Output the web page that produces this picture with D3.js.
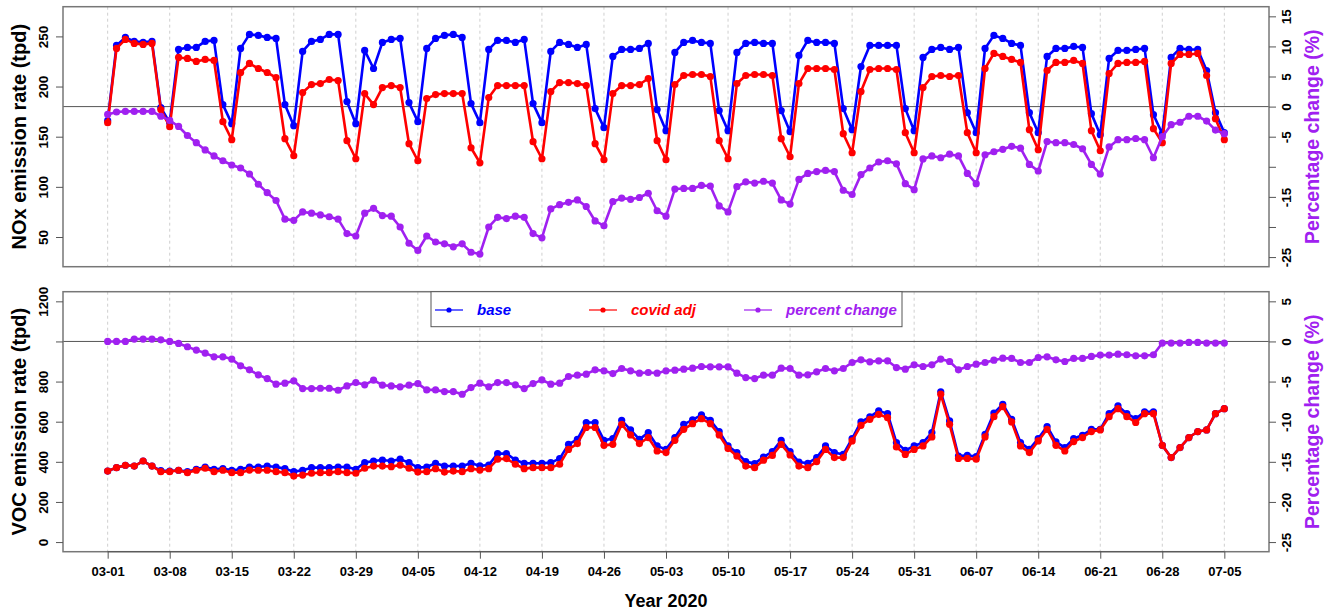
<!DOCTYPE html>
<html>
<head>
<meta charset="utf-8">
<script src="https://cdn.jsdelivr.net/npm/d3@7"></script>
<style>
  body { margin: 0; background: #fff; }
  text { font-family: "Liberation Sans", Arial, Helvetica, sans-serif; }
</style>
</head>
<body>
<script>
// Daily NOx / VOC emissions, 2020-03-01 .. 2020-07-05 (127 days)

const xTickLabels = ["03-01","03-08","03-15","03-22","03-29","04-05","04-12","04-19","04-26",
  "05-03","05-10","05-17","05-24","05-31","06-07","06-14","06-21","06-28","07-05"];

const days = d3.timeDay.range(new Date(2020, 2, 1), new Date(2020, 6, 6));

const noxBase = [166,241,249,245,244,245,179,164,237,239,239,245,246,182,163,238,252,251,249,248,
  182,161,235,245,247,252,252,185,163,236,218,244,247,248,184,165,238,248,251,252,249,183,164,
  237,246,246,244,247,183,164,235,244,242,239,242,178,159,230,237,237,238,243,177,156,234,244,
  246,244,243,176,156,234,243,244,243,243,176,155,231,246,244,244,243,178,157,220,241,241,
  241,241,178,156,229,237,239,237,239,174,154,238,251,248,243,241,174,154,230,238,238,240,239,
  173,152,228,236,236,237,238,172,153,229,238,237,237,216,174,154];

const noxCovid = [164,238,247,243,242,243,177,160,229,228,225,227,226,165,147,214,223,218,214,209,
  148,131,194,202,203,207,206,146,128,193,182,199,201,199,143,126,188,192,193,193,193,139,124,
  189,201,201,201,201,145,128,195,204,204,203,201,143,127,193,201,201,202,208,146,127,202,211,
  212,212,210,146,128,203,211,212,212,211,148,130,203,218,218,218,217,153,134,195,217,218,
  218,217,154,134,199,210,211,210,211,154,134,218,233,230,227,224,157,137,216,224,224,226,223,
  156,136,213,223,224,224,225,158,144,223,232,232,233,211,168,147];

const noxPct = [-1.3,-0.9,-0.8,-0.8,-0.8,-0.8,-1.6,-2.3,-3.3,-4.8,-6.0,-7.2,-8.2,-9.0,-9.7,-10.2,
  -11.2,-12.9,-14.3,-15.6,-18.7,-18.9,-17.5,-17.7,-18.0,-18.3,-18.7,-21.1,-21.5,-17.7,-16.9,
  -18.1,-18.2,-20.0,-22.7,-23.9,-21.5,-22.5,-22.8,-23.3,-22.8,-24.2,-24.5,
  -20.0,-18.4,-18.6,-18.2,-18.4,-21.1,-21.8,-17.0,-16.3,-15.9,-15.5,-16.6,-19.0,-19.8,-15.8,
  -15.2,-15.4,-15.1,-14.4,-17.3,-18.2,-13.7,-13.6,-13.6,-13.1,-13.2,-16.5,-17.5,-13.3,-12.5,
  -12.7,-12.4,-12.7,-15.5,-16.2,-12.1,-11.1,-10.8,-10.6,-10.8,-13.9,-14.6,-11.3,-10.2,-9.2,
  -9.0,-9.5,-12.8,-13.8,-8.7,-8.2,-8.5,-7.9,-8.2,-11.1,-12.8,-8.0,-7.5,-7.1,-6.6,-6.9,-9.6,
  -10.7,-5.8,-6.0,-6.0,-6.3,-7.0,-9.6,-11.2,-6.7,-5.5,-5.5,-5.3,-5.5,-8.5,-5.0,-3.0,-2.6,
  -1.6,-1.6,-2.4,-3.9,-4.5];

const vocBase = [354,371,383,379,404,379,356,354,358,351,363,374,363,366,358,363,374,374,379,374,
  366,351,358,371,371,371,374,374,363,396,404,409,404,413,396,371,374,393,379,379,379,393,380,
  384,441,441,409,393,393,393,396,416,487,512,596,596,507,516,607,559,512,546,479,462,521,587,
  609,634,607,551,479,446,401,391,424,451,507,451,399,393,421,479,446,437,516,599,624,654,
  640,496,457,479,496,546,749,604,429,432,426,537,643,687,612,496,462,516,576,499,471,516,532,
  562,562,640,679,640,615,649,649,482,421,471,521,551,559,640,665];

const vocCovid = [354,371,383,379,404,379,351,351,358,346,358,368,351,358,346,346,359,358,358,351,
  346,329,334,343,346,346,351,346,343,368,379,379,376,384,368,349,351,366,349,354,351,366,359,
  366,413,416,388,366,371,371,371,388,462,491,571,571,482,487,587,534,491,521,454,446,507,562,
  590,615,590,534,466,429,379,371,408,432,487,434,379,371,401,462,421,421,504,582,612,637,
  620,474,437,462,479,524,737,587,417,417,413,524,625,675,599,479,446,504,562,482,454,501,521,
  551,559,625,665,625,596,640,640,482,421,471,521,551,559,640,665];

const vocPct = [0.0,0.0,0.0,0.3,0.3,0.3,0.2,0.0,-0.25,-0.66,-1.08,-1.45,-1.91,-1.91,-2.2,-3.04,
  -3.54,-4.16,-4.62,-5.33,-5.2,-4.91,-5.87,-5.87,-5.83,-5.83,-6.08,-5.54,-5.12,-5.41,-4.83,
  -5.45,-5.54,-5.66,-5.45,-5.25,-6.04,-6.04,-6.25,-6.25,-6.58,-5.75,-5.2,
  -5.66,-5.12,-5.12,-5.41,-5.87,-5.25,-4.79,-5.33,-5.2,-4.37,-4.2,-4.08,-3.54,-3.66,-4.0,
  -3.37,-3.66,-3.95,-3.87,-3.95,-3.66,-3.58,-3.45,-3.33,-3.12,-3.16,-3.16,-3.16,-3.95,-4.5,
  -4.62,-4.2,-4.2,-3.33,-3.37,-4.2,-4.16,-3.79,-3.37,-3.66,-3.37,-2.62,-2.29,-2.54,-2.41,
  -2.41,-3.25,-3.45,-2.91,-3.12,-2.91,-2.2,-2.5,-3.54,-3.12,-2.83,-2.62,-2.33,-2.08,-2.12,
  -2.62,-2.62,-2.0,-1.91,-2.29,-2.5,-2.12,-2.12,-1.87,-1.7,-1.7,-1.58,-1.66,-1.79,-1.79,
  -1.66,-0.2,-0.2,-0.2,-0.12,-0.12,-0.2,-0.2,-0.2];

const seriesNames = ["base", "covid adj", "percent change"];
const seriesColors = ["#0000ff", "#ff0000", "#a020f0"];

const width = 1330, height = 614;
const left = 63, right = 1269;

const svg = d3.select("body").append("svg")
  .attr("width", width)
  .attr("height", height);

// x on day index, padded like R does
const x = d3.scaleLinear()
  .domain([-5.04, days.length - 1 + 5.04])
  .range([left, right]);

const tickIdx = xTickLabels.map((d, i) => i * 7);

function drawPanel(p) {
  const yL = d3.scaleLinear().domain(p.leftDomain).range([p.bottom, p.top]);
  const yR = d3.scaleLinear().domain(p.rightDomain).range([p.bottom, p.top]);
  const g = svg.append("g");

  // dashed vertical grid
  g.selectAll(".grid").data(tickIdx).enter().append("line")
    .attr("x1", d => x(d)).attr("x2", d => x(d))
    .attr("y1", p.top).attr("y2", p.bottom)
    .attr("stroke", "#cfcfcf").attr("stroke-width", 1)
    .attr("stroke-dasharray", "3,3");

  // zero line of the percent axis
  g.append("line")
    .attr("x1", left).attr("x2", right)
    .attr("y1", yR(0)).attr("y2", yR(0))
    .attr("stroke", "#555").attr("stroke-width", 1);

  const sets = [[p.base, yL], [p.covid, yL], [p.pct, yR]];
  sets.forEach(([vals, y], k) => {
    const line = d3.line().x((d, i) => x(i)).y(d => y(d));
    g.append("path").datum(vals)
      .attr("d", line)
      .attr("fill", "none")
      .attr("stroke", seriesColors[k])
      .attr("stroke-width", 2.6)
      .attr("stroke-linejoin", "round");
    g.selectAll(".pt" + k).data(vals).enter().append("circle")
      .attr("cx", (d, i) => x(i))
      .attr("cy", d => y(d))
      .attr("r", 3.6)
      .attr("fill", seriesColors[k]);
  });

  // box
  g.append("rect")
    .attr("x", left).attr("y", p.top)
    .attr("width", right - left).attr("height", p.bottom - p.top)
    .attr("fill", "none").attr("stroke", "#777").attr("stroke-width", 1.5);

  // left axis, labels turned like R
  const ax = g.append("g").attr("transform", `translate(${left},0)`)
    .call(d3.axisLeft(yL).tickValues(p.leftTicks).tickSize(7)
      .tickFormat(d => p.leftLabels.includes(d) ? d : ""));
  ax.select(".domain").remove();
  ax.selectAll(".tick line").attr("stroke", "#555");
  ax.selectAll(".tick text")
    .attr("transform", "rotate(-90)")
    .attr("x", 0).attr("y", -20).attr("dy", "0.35em")
    .attr("text-anchor", "middle")
    .style("font-size", "13.5px").style("font-weight", "bold").attr("fill", "#000");

  const ar = g.append("g").attr("transform", `translate(${right},0)`)
    .call(d3.axisRight(yR).tickValues(p.rightTicks).tickSize(7)
      .tickFormat(d => p.rightLabels.includes(d) ? d : ""));
  ar.select(".domain").remove();
  ar.selectAll(".tick line").attr("stroke", "#555");
  ar.selectAll(".tick text")
    .attr("transform", "rotate(-90)")
    .attr("x", 0).attr("y", 17).attr("dy", "0.35em")
    .attr("text-anchor", "middle")
    .style("font-size", "13.5px").style("font-weight", "bold").attr("fill", "#000");

  // axis titles
  const mid = (p.top + p.bottom) / 2;
  g.append("text")
    .attr("transform", `translate(19,${mid}) rotate(-90)`)
    .attr("text-anchor", "middle").attr("dy", "0.35em")
    .style("font-size", "20px").style("font-weight", "bold")
    .text(p.leftTitle);
  g.append("text")
    .attr("transform", `translate(1312,${mid}) rotate(-90)`)
    .attr("text-anchor", "middle").attr("dy", "0.35em")
    .style("font-size", "19.5px").style("font-weight", "bold")
    .attr("fill", seriesColors[2])
    .text("Percentage change (%)");
}

drawPanel({
  top: 6.7, bottom: 266.7,
  leftDomain: [20.4, 279.6], rightDomain: [-26.6, 16.6],
  leftTicks: [50, 100, 150, 200, 250], leftLabels: [50, 100, 150, 200, 250],
  rightTicks: [-25, -20, -15, -10, -5, 0, 5, 10, 15], rightLabels: [-25, -15, -5, 0, 5, 10, 15],
  base: noxBase, covid: noxCovid, pct: noxPct,
  leftTitle: "NOx emission rate (tpd)"
});

drawPanel({
  top: 291.7, bottom: 551.7,
  leftDomain: [-48, 1248], rightDomain: [-26.2, 6.2],
  leftTicks: [0, 200, 400, 600, 800, 1000, 1200], leftLabels: [0, 200, 400, 600, 800, 1200],
  rightTicks: [-25, -20, -15, -10, -5, 0, 5], rightLabels: [-25, -20, -15, -10, -5, 0, 5],
  base: vocBase, covid: vocCovid, pct: vocPct,
  leftTitle: "VOC emission rate (tpd)"
});

// bottom date axis
const xa = svg.append("g").attr("transform", "translate(0,551.7)")
  .call(d3.axisBottom(x).tickValues(tickIdx).tickSize(7)
    .tickFormat((d, i) => xTickLabels[i]));
xa.select(".domain").attr("d", `M${x(0)},0H${x(126)}`).attr("stroke", "#555");
xa.selectAll(".tick line").attr("stroke", "#555");
xa.selectAll(".tick text")
  .attr("y", 20).attr("dy", "0.35em")
  .style("font-size", "13px").style("font-weight", "bold").attr("fill", "#000");

svg.append("text")
  .attr("x", (left + right) / 2).attr("y", 601).attr("dy", "0.35em")
  .attr("text-anchor", "middle")
  .style("font-size", "18px").style("font-weight", "bold")
  .text("Year 2020");

// legend in the lower panel
const legend = svg.append("g");
legend.append("rect")
  .attr("x", 431).attr("y", 291.7).attr("width", 471).attr("height", 35)
  .attr("fill", "#fff").attr("stroke", "#555").attr("stroke-width", 1);
const legX = [435, 589, 744];
seriesNames.forEach((name, k) => {
  legend.append("line")
    .attr("x1", legX[k]).attr("x2", legX[k] + 28)
    .attr("y1", 310).attr("y2", 310)
    .attr("stroke", seriesColors[k]).attr("stroke-width", 1.2);
  legend.append("circle")
    .attr("cx", legX[k] + 14).attr("cy", 310).attr("r", 2.6)
    .attr("fill", seriesColors[k]);
  legend.append("text")
    .attr("x", legX[k] + 42).attr("y", 310).attr("dy", "0.35em")
    .style("font-size", "15px").style("font-weight", "bold").style("font-style", "italic")
    .attr("fill", seriesColors[k])
    .text(name);
});
</script>
</body>
</html>
